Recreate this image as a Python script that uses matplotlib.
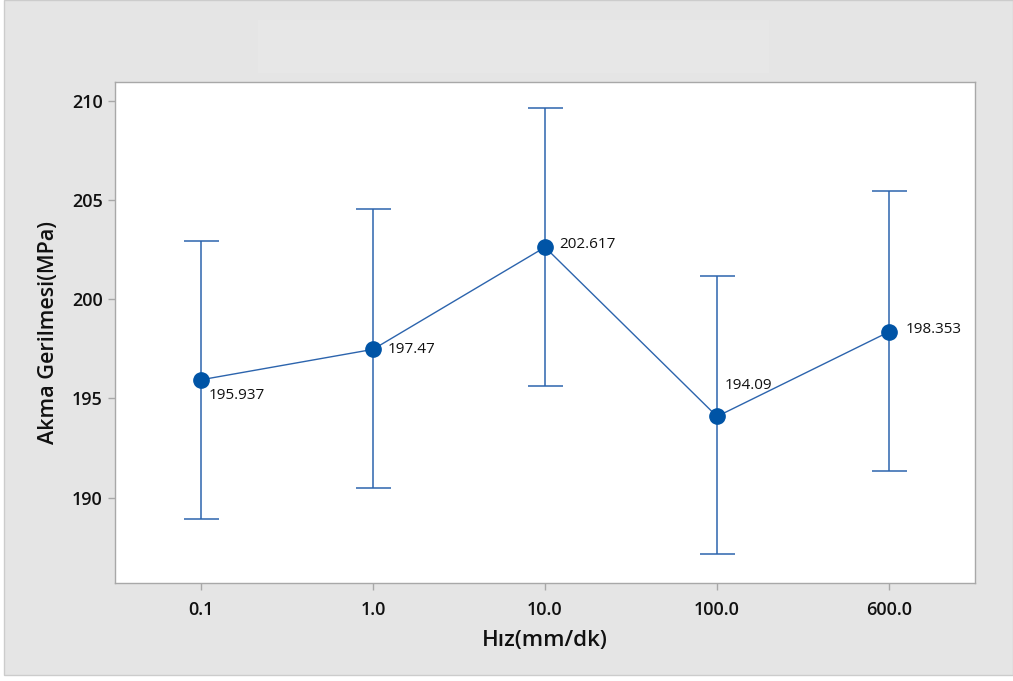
import matplotlib
matplotlib.use("Agg")
import matplotlib.pyplot as plt
from matplotlib.patches import Rectangle

categories = ["0.1", "1.0", "10.0", "100.0", "600.0"]
means = [195.937, 197.47, 202.617, 194.09, 198.353]
upper = [202.93, 204.54, 209.63, 201.16, 205.45]
lower = [188.93, 190.49, 195.63, 187.16, 191.35]
labels = ["195.937", "197.47", "202.617", "194.09", "198.353"]
yticks = [190, 195, 200, 205, 210]

plt.rcParams['font.family'] = ['Open Sans', 'DejaVu Sans']

fig = plt.figure(figsize=(10.13, 6.81), dpi=100, facecolor='white')
fig.patches.append(Rectangle((4/1013, 6/681), 1 - 4/1013, 1 - 6/681, transform=fig.transFigure,
                             facecolor='#e5e5e5', edgecolor='#cccccc', linewidth=1, zorder=-10))
fig.patches.append(Rectangle((258/1013, 1 - 73/681), 511/1013, 53/681, transform=fig.transFigure,
                             facecolor='#e7e7e7', edgecolor='none', zorder=-9))

ax = fig.add_axes([115/1013, 1 - 583/681, (975 - 115)/1013, (583 - 82)/681])
ax.set_facecolor('white')

x = list(range(1, len(categories) + 1))
err_lo = [m - l for m, l in zip(means, lower)]
err_hi = [u - m for m, u in zip(means, upper)]

line_color = '#2c64ad'
ax.errorbar(x, means, yerr=[err_lo, err_hi], fmt='none', ecolor=line_color,
            elinewidth=1.1, capsize=12.6, capthick=1.1, zorder=2)
ax.plot(x, means, color=line_color, linewidth=1.0, zorder=3)
ax.plot(x, means, 'o', color='#0054a6', markersize=11, zorder=4)

offsets = [(8, -16), (15, 0), (14, 3), (8, 31), (17, 2)]
for xi, m, lab, (dx, dy) in zip(x, means, labels, offsets):
    ax.annotate(lab, (xi, m), xytext=(dx, dy), textcoords='offset pixels',
                ha='left', va='center', fontsize=11, color='#111111', zorder=5)

ax.set_xlim(0.5, 5.5)
ax.set_ylim(185.7, 210.94)
ax.set_xticks(x)
ax.set_xticklabels(categories)
ax.set_yticks(yticks)

for s in ax.spines.values():
    s.set_color('#a8a8a8')
    s.set_linewidth(1.0)

ax.tick_params(axis='both', colors='#a8a8a8', length=5, width=1, labelcolor='#111111',
               labelsize=13)
for t in ax.get_xticklabels() + ax.get_yticklabels():
    t.set_fontweight('semibold')
ax.tick_params(axis='x', pad=8)
ax.tick_params(axis='y', pad=4)

ax.set_xlabel('Hız(mm/dk)', fontsize=16, fontweight='semibold', color='#111111', labelpad=8)
ax.set_ylabel('Akma Gerilmesi(MPa)', fontsize=15.5, fontweight='semibold', color='#111111', labelpad=9)

fig.savefig('out.png', dpi=100, facecolor=fig.get_facecolor())
